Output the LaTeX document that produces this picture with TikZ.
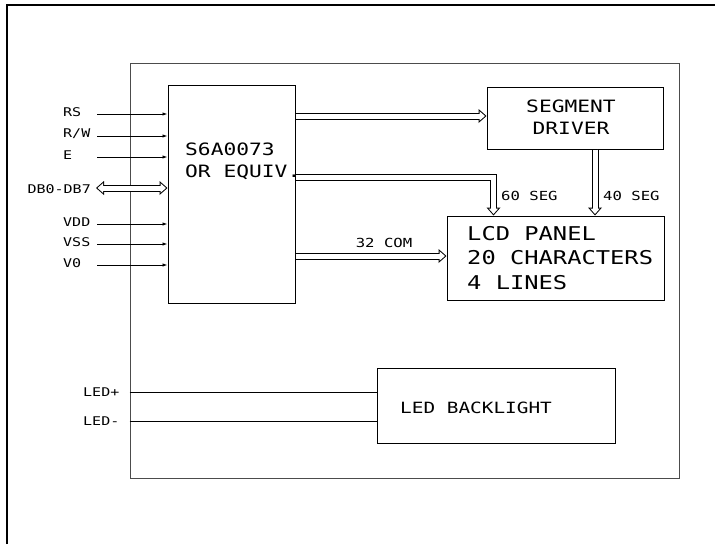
\documentclass[tikz,border=0pt]{standalone}
\usepackage{fontspec}
\setmainfont{DejaVu Sans Mono}[FakeStretch=1.25]
\usetikzlibrary{calc, positioning}
\usetikzlibrary{arrows.meta}

\newcommand\txtfont[1]{\fontsize{#1}{\fpeval{1.3*#1}}\selectfont}
\tikzset{
  blk/.style={draw, line width=1pt, inner sep=0pt},
  txt/.style={inner sep=0pt, font=\txtfont{#1}},
  sig/.style={line width=0.9pt, -{Latex[length=5pt, width=3.5pt]}},
  outtip/.tip={Triangle[length=8pt, width=14pt, line width=0pt]},
  intip/.tip={Triangle[length=5.5pt, width=9.6pt, line width=0pt]},
  bus/.style={line width=7pt, -outtip,
    postaction={draw=white, line width=5pt, shorten >=1.5pt, -intip}},
  bibus/.style={line width=7pt, outtip-outtip,
    postaction={draw=white, line width=5pt, shorten >=1.5pt, shorten <=1.5pt, intip-intip}},
}

\begin{document}
\begin{tikzpicture}[x=1pt, y=-1pt]
\useasboundingbox (0,0) rectangle (715,544);

% outer border and module outline
\draw[line width=2.5pt] (7,544) -- (7,5) -- (715,5);
\node[blk, draw=gray!60!black, minimum width=549pt, minimum height=415pt] (frame) at (404.5,270.5) {};

% blocks
\node[blk, minimum width=127pt, minimum height=218pt] (chip) at (231.5,194) {};
\node[txt=17, anchor=west, align=left] (chiptxt) at (185,161) {S6A0073\\OR EQUIV.};

\node[blk, minimum width=176pt, minimum height=62pt] (segdrv) at (575,118) {};
\node[txt=17, align=center] (segtxt) at (571,117) {SEGMENT\\DRIVER};

\node[blk, minimum width=217pt, minimum height=84pt] (lcd) at (555.5,258) {};
\node[txt=19, anchor=west, align=left] (lcdtxt) at (467,258) {LCD PANEL\\20 CHARACTERS\\4 LINES};

\node[blk, minimum width=238pt, minimum height=75pt] (led) at (496,405.5) {};
\node[txt=15.5, anchor=west] (ledtxt) at (400,408) {LED BACKLIGHT};

% control and power inputs
\foreach \name/\lab/\y in {rs/RS/114, rw/R\slash W/136, en/E/157, vdd/VDD/224, vss/VSS/244, vo/V0/265} {
  \node[txt=12, anchor=west] (\name) at (63,\y-2) {\lab};
  \draw[sig] (97,\y) -- (chip.west |- 0,\y);
}
\node[txt=12, anchor=east] (db) at (91,189) {DB0-DB7};
\draw[bibus] (db.east |- 0,188) ++(5,0) -- (chip.west |- 0,188);

% buses
\draw[bus] (chip.east |- 0,116) -- (segdrv.west |- 0,116);
\draw[bus] (chip.east |- 0,177) -| ([xshift=47pt]lcd.north west);
\draw[bus] (chip.east |- 0,256) -- (lcd.west |- 0,256);
\draw[bus] ([xshift=20pt]segdrv.south) -- ([xshift=20pt]segdrv.south |- lcd.north);

\node[txt=12.5] (com) at (384,243) {32 COM};
\node[txt=12.5, anchor=west] (seg60) at (501,195.5) {60 SEG};
\node[txt=12.5, anchor=west] (seg40) at (603,195.5) {40 SEG};

% backlight
\node[txt=12, anchor=west] (ledp) at (83,392) {LED+};
\node[txt=12, anchor=west] (ledm) at (83,421) {LED-};
\draw[line width=0.9pt] (frame.west |- 0,392) -- (led.west |- 0,392);
\draw[line width=0.9pt] (frame.west |- 0,421) -- (led.west |- 0,421);
\end{tikzpicture}
\end{document}
